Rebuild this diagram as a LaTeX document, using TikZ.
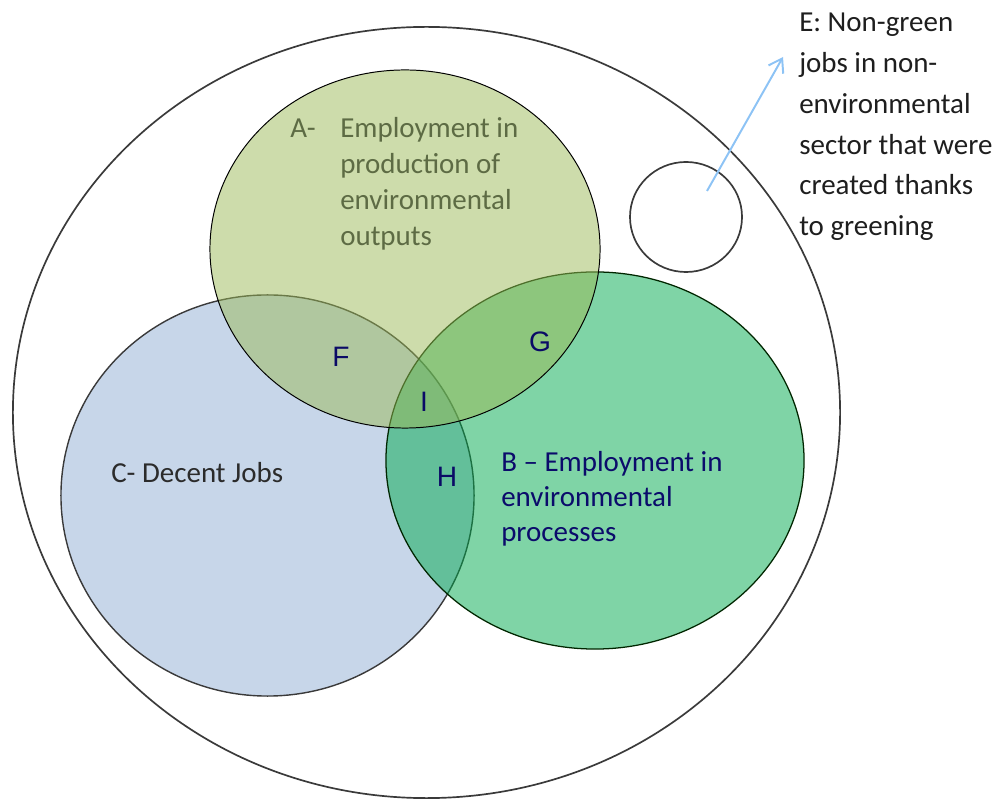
\documentclass[tikz,border=0pt]{standalone}
\usepackage{fontspec}
\setmainfont{Carlito}
\newfontfamily\arialfont{Liberation Sans}
\usetikzlibrary{shapes.geometric,arrows.meta}
\definecolor{Afill}{HTML}{9BB957}
\definecolor{Bfill}{HTML}{00A94D}
\definecolor{Cfill}{HTML}{C7D6E9}
\definecolor{Atext}{HTML}{5D6B44}
\definecolor{Btext}{HTML}{0B0B6B}
\definecolor{Ctext}{HTML}{2B2B2B}
\definecolor{Etext}{HTML}{1E1E1E}
\definecolor{letter}{HTML}{0A0A66}
\definecolor{arrowblue}{HTML}{8DC3F5}
\definecolor{rim}{HTML}{3A3A3A}
\tikzset{
  setshape/.style={ellipse, inner sep=0pt, outer sep=0pt},
  lbl/.style={inner sep=0pt, font=\fontsize{20.6}{25.6}\selectfont},
  letterlbl/.style={inner sep=0pt, font=\arialfont\fontsize{20}{24}\selectfont, text=letter},
}
\begin{document}
\begin{tikzpicture}[x=0.025cm, y=-0.025cm]
\useasboundingbox (0,0) rectangle (1000,799);
% outer universe
\node[setshape, draw=rim, line width=1.2pt, minimum width=20.675cm, minimum height=19.275cm] (outer) at (426.5,412.5) {};
% small circle E
\node[setshape, draw=rim, line width=1.2pt, minimum width=2.8cm, minimum height=2.75cm] (E) at (686,217) {};
% C
\node[setshape, draw=rim, line width=1pt, fill=Cfill, minimum width=10.325cm, minimum height=10.025cm] (C) at (267.5,495.5) {};
% B
\node[setshape, draw=black!85!green, line width=0.9pt, fill=Bfill, fill opacity=0.5, minimum width=10.45cm, minimum height=9.425cm] (B) at (595,460.5) {};
% A
\node[setshape, draw=black, line width=0.7pt, fill=Afill, fill opacity=0.5, minimum width=9.75cm, minimum height=8.95cm] (A) at (405,249) {};

% labels (base anchor = baseline of the last line)
\node[lbl, text=Atext, anchor=base west] (Adash) at (290,138) {A-};
\node[lbl, text=Atext, anchor=base west, align=left, font=\fontsize{20.6}{25.6}\selectfont] (Alabel) at (340,246) {Employment in\\production of\\environmental\\outputs};
\node[lbl, text=Ctext, anchor=base west] (Clabel) at (111,483) {C- Decent Jobs};
\node[lbl, text=Btext, anchor=base west, align=left, font=\fontsize{20.6}{24.9}\selectfont] (Blabel) at (501,542) {B -- Employment in\\environmental\\processes};
\node[lbl, text=Etext, anchor=base west, align=left, font=\fontsize{20.6}{28.95}\selectfont] (Elabel) at (799,235.5) {E: Non-green\\jobs in non-\\environmental\\sector that were\\created thanks\\to greening};

\node[letterlbl] (F) at (341,357) {F};
\node[letterlbl] (G) at (540,342) {G};
\node[letterlbl] (I) at (424,402) {I};
\node[letterlbl] (H) at (447,477) {H};

% arrow
\coordinate (arrStart) at (707,191);
\coordinate (arrEnd) at (783,57);
\draw[arrowblue, line width=1.4pt, -{Straight Barb[length=9pt, width=12pt]}] (arrStart) -- (arrEnd);
\end{tikzpicture}
\end{document}
